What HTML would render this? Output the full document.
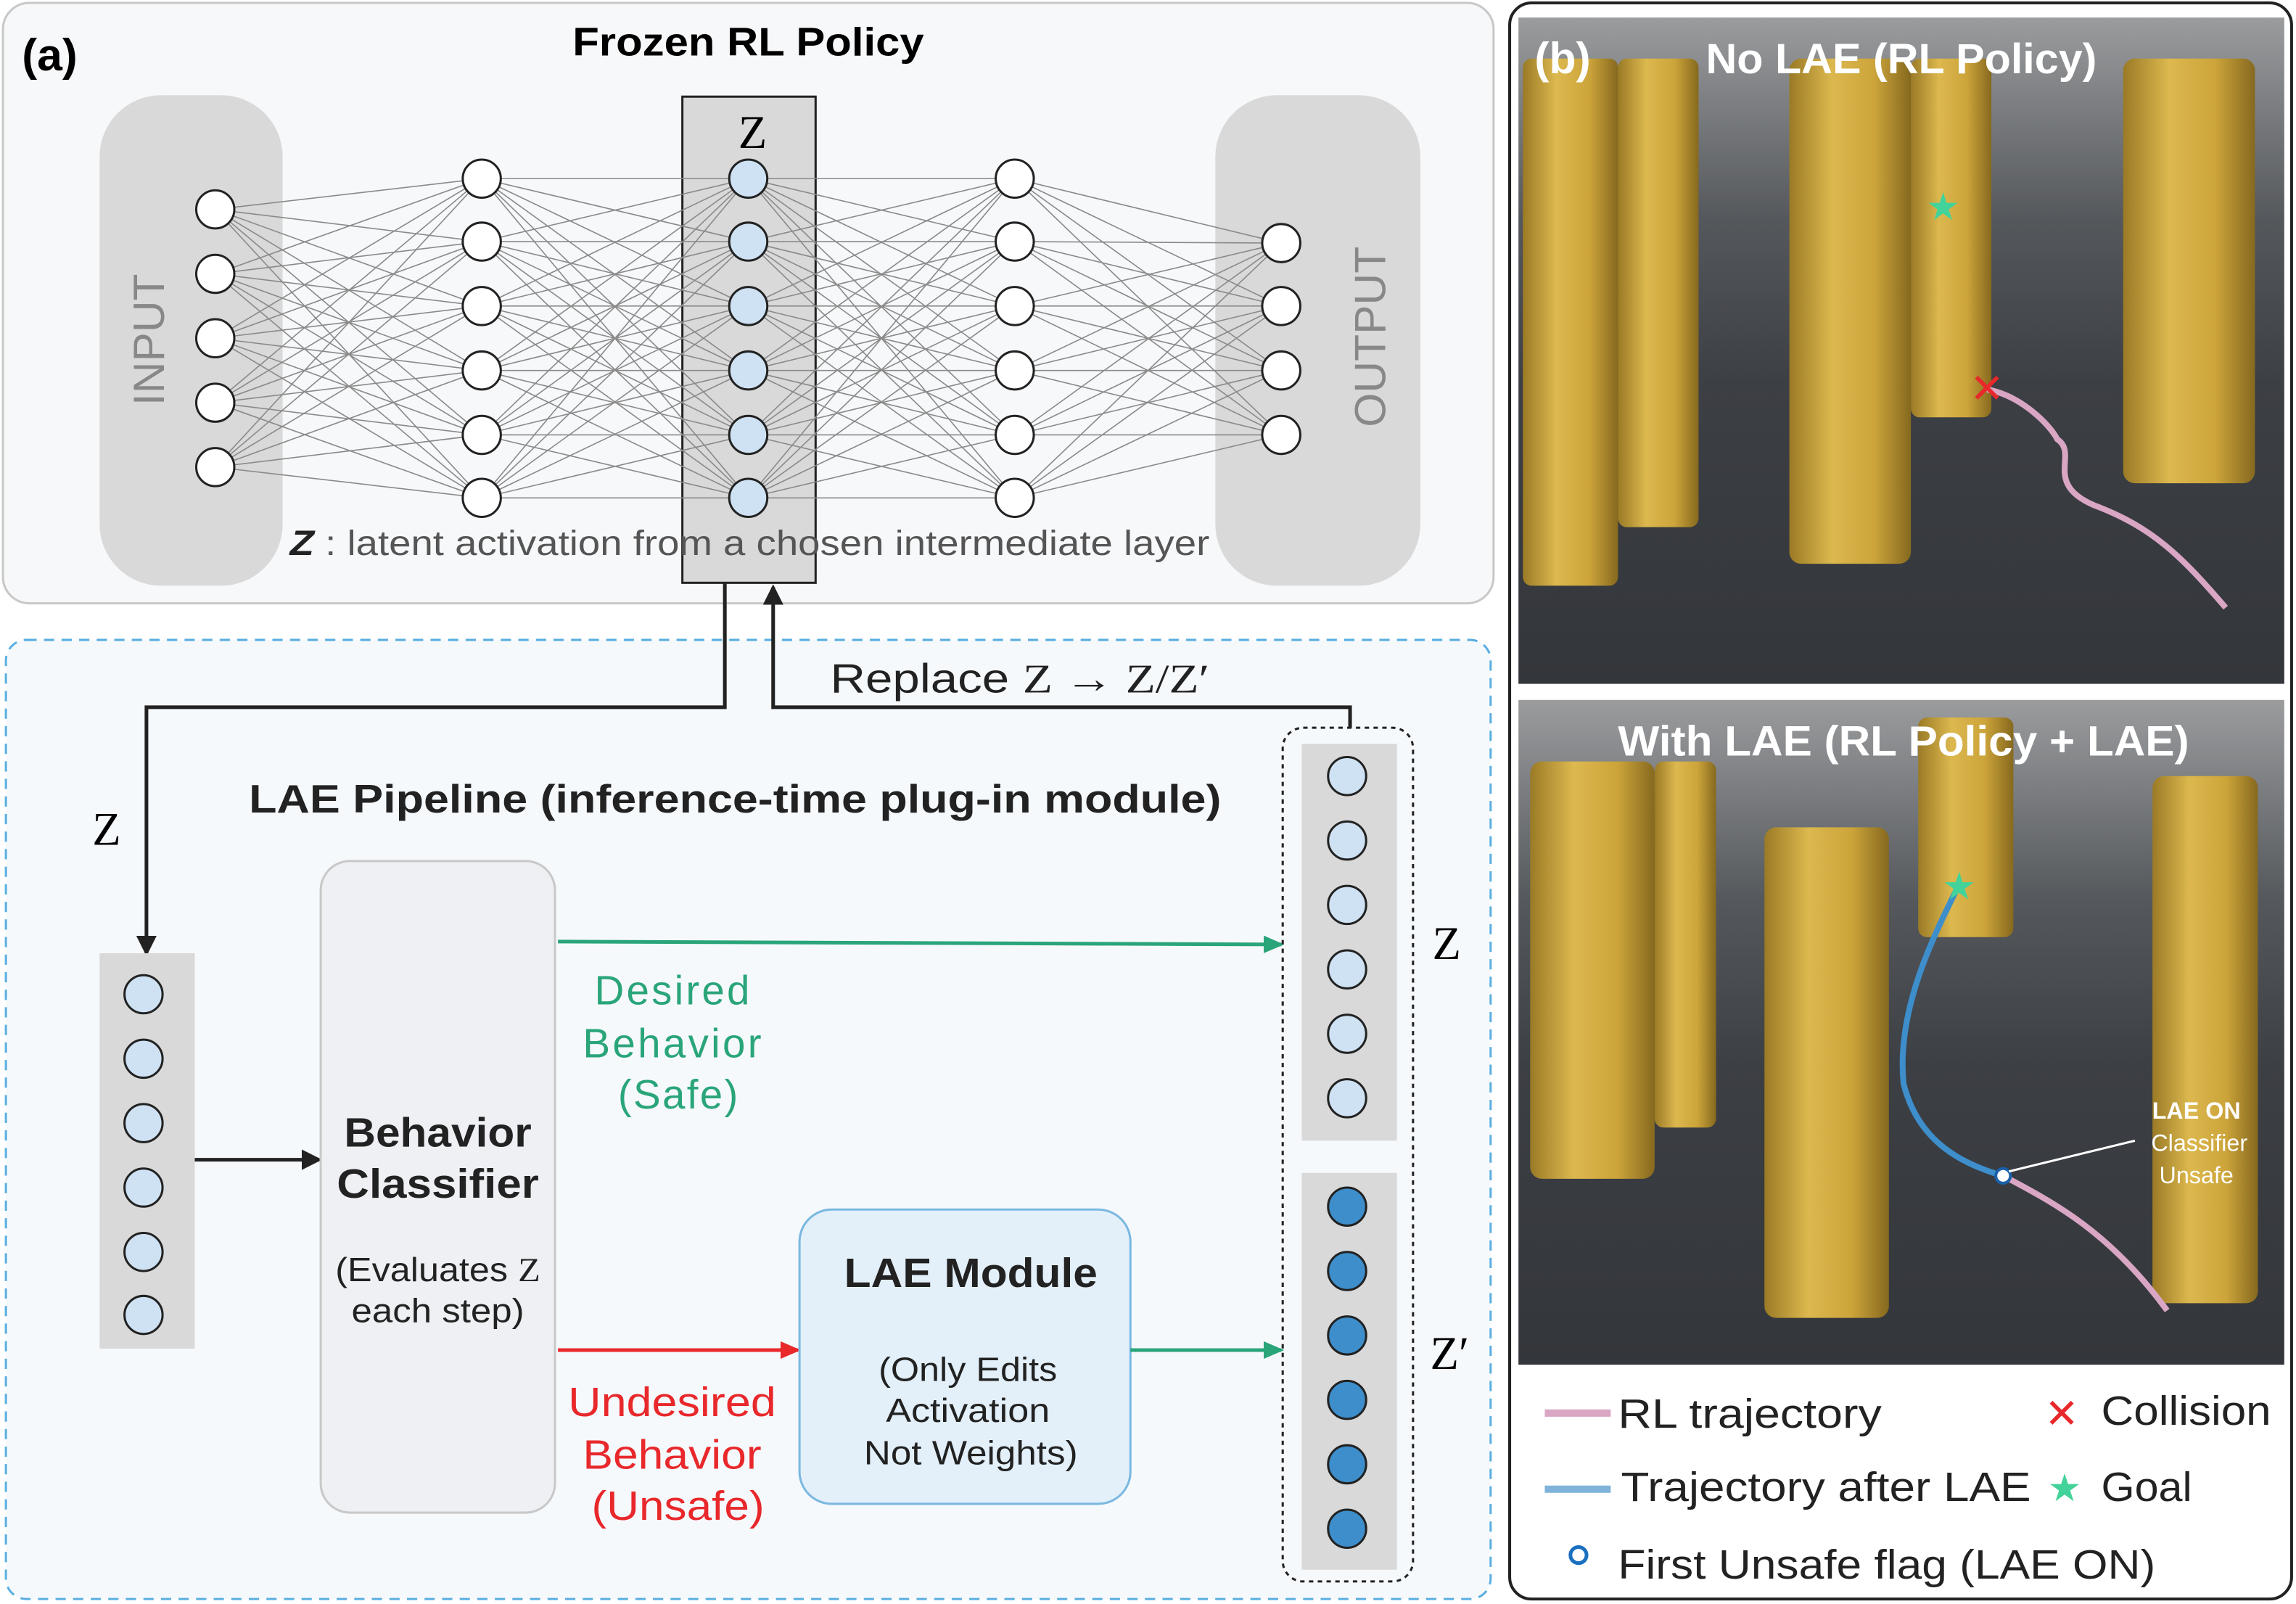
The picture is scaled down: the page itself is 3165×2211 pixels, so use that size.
<!DOCTYPE html>
<html><head><meta charset="utf-8"><style>
html,body{margin:0;padding:0;background:#fff}
svg{display:block}
text{font-family:"Liberation Sans","DejaVu Sans",sans-serif}
.serif{font-family:"Liberation Serif","DejaVu Serif",serif}
</style></head><body>
<svg width="3165" height="2211" viewBox="0 0 1568 1095.4" xmlns="http://www.w3.org/2000/svg">
<defs>
<marker id="ag" markerWidth="14" markerHeight="12" refX="12" refY="6" orient="auto" markerUnits="userSpaceOnUse"><path d="M0,0 L14,6 L0,12 z" fill="#2aa57a"/></marker>
<marker id="ar" markerWidth="14" markerHeight="12" refX="12" refY="6" orient="auto" markerUnits="userSpaceOnUse"><path d="M0,0 L14,6 L0,12 z" fill="#e8282b"/></marker>
<marker id="ab" markerWidth="14" markerHeight="14" refX="12" refY="7" orient="auto" markerUnits="userSpaceOnUse"><path d="M0,0 L14,7 L0,14 z" fill="#222"/></marker>
<linearGradient id="cyl" x1="0" x2="1"><stop offset="0" stop-color="#9a7a26"/><stop offset="0.35" stop-color="#dcb84e"/><stop offset="0.7" stop-color="#ccA43a"/><stop offset="1" stop-color="#86691f"/></linearGradient>
<linearGradient id="ph1" x1="0" y1="0" x2="0" y2="1"><stop offset="0" stop-color="#9a9c9e"/><stop offset="0.3" stop-color="#55585c"/><stop offset="0.55" stop-color="#3c3f44"/><stop offset="1" stop-color="#33363a"/></linearGradient>
</defs>

<rect x="2" y="2" width="1018" height="410" rx="18" fill="#f7f8fa" stroke="#c8c8c8" stroke-width="1.5"/>
<text x="15" y="48" font-size="31" font-weight="bold">(a)</text>
<text x="391" y="38" font-size="27" font-weight="bold" textLength="240" lengthAdjust="spacingAndGlyphs">Frozen RL Policy</text>
<rect x="68" y="65" width="125" height="335" rx="42" fill="#d9d9d9"/>
<rect x="830" y="65" width="140" height="335" rx="42" fill="#d9d9d9"/>
<text transform="translate(112,232) rotate(-90)" font-size="30" fill="#888" text-anchor="middle">INPUT</text>
<text transform="translate(946,230) rotate(-90)" font-size="30" fill="#888" text-anchor="middle">OUTPUT</text>
<rect x="466" y="66" width="91" height="332" fill="#d9d9d9" stroke="#222" stroke-width="1.5"/>
<text x="514" y="101" font-size="32" class="serif" text-anchor="middle">Z</text>
<g stroke="#8a8a8a" stroke-width="0.8" id="lines"></g>
<g id="nodes"></g>
<text x="198" y="379" font-size="24" fill="#555" textLength="628" lengthAdjust="spacingAndGlyphs"><tspan font-weight="bold" font-style="italic" fill="#222">Z</tspan> : latent activation from a chosen intermediate layer</text>

<rect x="4" y="437" width="1014" height="655" rx="14" fill="#f6f9fc" stroke="#5aafe0" stroke-width="1.5" stroke-dasharray="7,5"/>
<polyline points="495,398 495,483 100,483 100,651" fill="none" stroke="#222" stroke-width="2.5" marker-end="url(#ab)"/>
<polyline points="922,497 922,483 528,483 528,401" fill="none" stroke="#222" stroke-width="2.5" marker-end="url(#ab)"/>
<text x="567" y="473" font-size="28" fill="#222" textLength="259" lengthAdjust="spacingAndGlyphs">Replace <tspan class="serif">Z → Z/Z′</tspan></text>
<text x="63" y="577" font-size="32" class="serif">Z</text>
<text x="170" y="555" font-size="27" font-weight="bold" fill="#222" textLength="664" lengthAdjust="spacingAndGlyphs">LAE Pipeline (inference-time plug-in module)</text>
<rect x="68" y="651" width="65" height="270" fill="#d9d9d9"/>
<line x1="133" y1="792" x2="218" y2="792" stroke="#222" stroke-width="2.5" marker-end="url(#ab)"/>
<rect x="219" y="588" width="160" height="445" rx="20" fill="#eef0f4" stroke="#c8c8c8" stroke-width="1.5"/>
<text x="299" y="783" font-size="28" font-weight="bold" text-anchor="middle" fill="#222" textLength="128" lengthAdjust="spacingAndGlyphs">Behavior</text>
<text x="299" y="818" font-size="28" font-weight="bold" text-anchor="middle" fill="#222" textLength="138" lengthAdjust="spacingAndGlyphs">Classifier</text>
<text x="299" y="875" font-size="23" text-anchor="middle" fill="#222" textLength="140" lengthAdjust="spacingAndGlyphs">(Evaluates <tspan class="serif">Z</tspan></text>
<text x="299" y="903" font-size="23" text-anchor="middle" fill="#222" textLength="118" lengthAdjust="spacingAndGlyphs">each step)</text>
<line x1="381" y1="643" x2="875" y2="645" stroke="#2aa57a" stroke-width="2.5" marker-end="url(#ag)"/>
<g font-size="28" fill="#2aa57a" text-anchor="middle" lengthAdjust="spacingAndGlyphs"><text x="459" y="686" textLength="106">Desired</text><text x="459" y="722" textLength="122">Behavior</text><text x="463" y="757" textLength="82">(Safe)</text></g>
<line x1="381" y1="922" x2="545" y2="922" stroke="#e8282b" stroke-width="2.5" marker-end="url(#ar)"/>
<g font-size="28" fill="#e8282b" text-anchor="middle"><text x="459" y="967" textLength="142" lengthAdjust="spacingAndGlyphs">Undesired</text><text x="459" y="1003" textLength="122" lengthAdjust="spacingAndGlyphs">Behavior</text><text x="463" y="1038" textLength="118" lengthAdjust="spacingAndGlyphs">(Unsafe)</text></g>
<rect x="546" y="826" width="226" height="201" rx="22" fill="#e3f0fa" stroke="#7ab8e0" stroke-width="1.5"/>
<text x="663" y="879" font-size="28" font-weight="bold" text-anchor="middle" fill="#222" textLength="173" lengthAdjust="spacingAndGlyphs">LAE Module</text>
<g font-size="23" text-anchor="middle" fill="#222"><text x="661" y="943" textLength="122" lengthAdjust="spacingAndGlyphs">(Only Edits</text><text x="661" y="971" textLength="112" lengthAdjust="spacingAndGlyphs">Activation</text><text x="663" y="1000" textLength="146" lengthAdjust="spacingAndGlyphs">Not Weights)</text></g>
<line x1="772" y1="922" x2="875" y2="922" stroke="#2aa57a" stroke-width="2.5" marker-end="url(#ag)"/>
<rect x="876" y="497" width="89" height="583" rx="14" fill="none" stroke="#222" stroke-width="1.5" stroke-dasharray="3,3"/>
<rect x="889" y="508" width="65" height="271" fill="#d9d9d9"/>
<rect x="889" y="801" width="65" height="271" fill="#d9d9d9"/>
<text x="988" y="655" font-size="32" class="serif" text-anchor="middle">Z</text>
<text x="990" y="935" font-size="32" class="serif" text-anchor="middle">Z′</text>

<rect x="1031" y="2" width="534" height="1090" rx="15" fill="#fff" stroke="#222" stroke-width="2"/>
<rect x="1037" y="12" width="523" height="455" fill="url(#ph1)"/>
<rect x="1037" y="478" width="523" height="454" fill="url(#ph1)"/>
<g fill="url(#cyl)">
<rect x="1040" y="40" width="65" height="360" rx="6"/><rect x="1105" y="40" width="55" height="320" rx="6"/>
<rect x="1222" y="40" width="83" height="345" rx="8"/><rect x="1305" y="40" width="55" height="245" rx="6"/>
<rect x="1450" y="40" width="90" height="290" rx="8"/>
<rect x="1045" y="520" width="85" height="285" rx="8"/><rect x="1130" y="520" width="42" height="250" rx="6"/>
<rect x="1205" y="565" width="85" height="335" rx="8"/><rect x="1310" y="490" width="65" height="150" rx="6"/>
<rect x="1470" y="530" width="72" height="360" rx="8"/>
</g>
<path d="M1357,266 C1380,270 1400,290 1405,300 C1420,310 1395,330 1430,345 C1470,360 1490,380 1520,415" fill="none" stroke="#d9a6c4" stroke-width="4"/>
<text x="1357" y="275" font-size="28" fill="#e8282b" text-anchor="middle">✕</text>
<text x="1327" y="150" font-size="26" fill="#43d39a" text-anchor="middle">★</text>
<path d="M1338,604 C1320,640 1295,690 1300,740 C1310,780 1340,795 1368,803" fill="none" stroke="#3d8ecb" stroke-width="4"/>
<path d="M1368,803 C1400,820 1440,840 1480,895" fill="none" stroke="#d9a6c4" stroke-width="4"/>
<circle cx="1368" cy="803" r="5" fill="#fff" stroke="#1a5fa8" stroke-width="2"/>
<text x="1338" y="614" font-size="26" fill="#43d39a" text-anchor="middle">★</text>
<line x1="1372" y1="800" x2="1458" y2="779" stroke="#fff" stroke-width="1.5"/>
<g fill="#fff" text-anchor="middle" font-size="16"><text x="1500" y="764" font-weight="bold">LAE ON</text><text x="1502" y="786">Classifier</text><text x="1500" y="808">Unsafe</text></g>
<text x="1048" y="50" font-size="30" font-weight="bold" fill="#fff">(b)</text>
<text x="1165" y="50" font-size="29" font-weight="bold" fill="#fff" textLength="267" lengthAdjust="spacingAndGlyphs">No LAE (RL Policy)</text>
<text x="1105" y="516" font-size="29" font-weight="bold" fill="#fff" textLength="390" lengthAdjust="spacingAndGlyphs">With LAE (RL Policy + LAE)</text>
<line x1="1055" y1="965" x2="1100" y2="965" stroke="#d9a6c4" stroke-width="5"/>
<text x="1105" y="975" font-size="28" fill="#222" textLength="180" lengthAdjust="spacingAndGlyphs">RL trajectory</text>
<text x="1408" y="975" font-size="28" fill="#e8282b" text-anchor="middle">✕</text>
<text x="1435" y="973" font-size="28" fill="#222" textLength="116" lengthAdjust="spacingAndGlyphs">Collision</text>
<line x1="1055" y1="1017" x2="1100" y2="1017" stroke="#7fb3d9" stroke-width="5"/>
<text x="1107" y="1025" font-size="28" fill="#222" textLength="280" lengthAdjust="spacingAndGlyphs">Trajectory after LAE</text>
<text x="1410" y="1025" font-size="26" fill="#43d39a" text-anchor="middle">★</text>
<text x="1435" y="1025" font-size="28" fill="#222" textLength="62" lengthAdjust="spacingAndGlyphs">Goal</text>
<circle cx="1078" cy="1062" r="5.5" fill="#fff" stroke="#1a6fc0" stroke-width="2.5"/>
<text x="1105" y="1078" font-size="28" fill="#222" textLength="367" lengthAdjust="spacingAndGlyphs">First Unsafe flag (LAE ON)</text>
</svg>
<script>
const ns="http://www.w3.org/2000/svg";
const L=[[147,[143,187,231,275,319]],[329,[122,165,209,253,297,340]],[511,[122,165,209,253,297,340]],[693,[122,165,209,253,297,340]],[875,[166,209,253,297]]];
const lg=document.getElementById('lines'),ng=document.getElementById('nodes');
for(let i=0;i<4;i++)for(const a of L[i][1])for(const b of L[i+1][1]){const l=document.createElementNS(ns,'line');l.setAttribute('x1',L[i][0]);l.setAttribute('y1',a);l.setAttribute('x2',L[i+1][0]);l.setAttribute('y2',b);lg.appendChild(l);}
function c(g,x,y,f){const e=document.createElementNS(ns,'circle');e.setAttribute('cx',x);e.setAttribute('cy',y);e.setAttribute('r',13);e.setAttribute('fill',f);e.setAttribute('stroke','#222');e.setAttribute('stroke-width',1.5);g.appendChild(e);}
L.forEach((l,i)=>l[1].forEach(y=>c(ng,l[0],y,i==2?'#cfe2f3':'#fff')));
const s=document.querySelector('svg');
[679,723,767,811,855,898].forEach(y=>c(s,98,y,'#cfe2f3'));
[530,574,618,662,706,750].forEach(y=>c(s,920,y,'#cfe2f3'));
[824,868,912,956,1000,1044].forEach(y=>c(s,920,y,'#3d8ecb'));
</script>
</body></html>
